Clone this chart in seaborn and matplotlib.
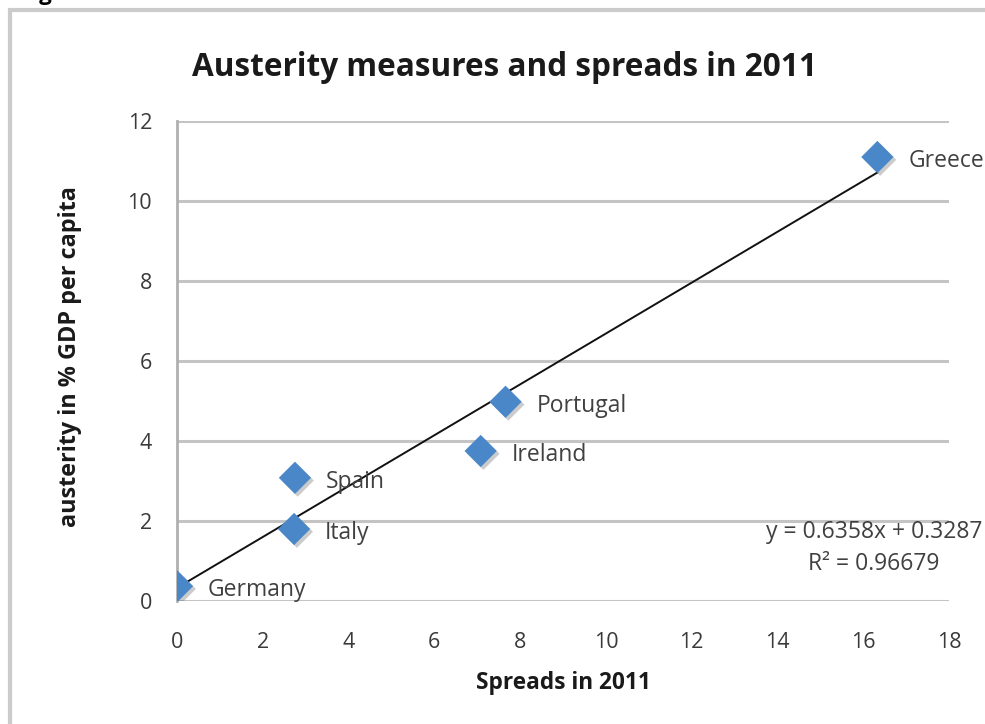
import matplotlib
matplotlib.use("Agg")
import matplotlib.pyplot as plt
import matplotlib.patheffects as pe
from matplotlib.patches import Rectangle
import numpy as np
import pandas as pd
import seaborn as sns

# Data: fiscal austerity vs. sovereign bond spreads, 2011
countries = ["Germany", "Italy", "Spain", "Ireland", "Portugal", "Greece"]
spreads = [0.0, 2.73, 2.75, 7.08, 7.66, 16.33]
austerity = [0.37, 1.80, 3.08, 3.75, 4.98, 11.10]

# Linear trendline as reported on the chart
slope = 0.6358
intercept = 0.3287
r_squared = 0.96679

x_ticks = [0, 2, 4, 6, 8, 10, 12, 14, 16, 18]
y_ticks = [0, 2, 4, 6, 8, 10, 12]

title = "Austerity measures and spreads in 2011"
x_label = "Spreads in 2011"
y_label = "austerity in % GDP per capita"

df = pd.DataFrame({"country": countries, "spreads": spreads, "austerity": austerity})

sns.set_theme(style="white")
plt.rcParams["font.family"] = ["Open Sans", "DejaVu Sans"]

W, H = 985, 724
fig = plt.figure(figsize=(W / 100, H / 100), dpi=100)
fig.patch.set_facecolor("white")

# Chart frame (open towards the right and bottom edges)
fig.patches.append(Rectangle((10 / W, -0.2), 1.3, 1.2 - 10 / H, transform=fig.transFigure,
                             fill=False, edgecolor="#cbcbcb", lw=3.0, zorder=0))
fig.text(20 / W, 1.0, "Figure 3", ha="left", va="baseline", fontsize=16,
         fontweight="bold", color="black")

ax = fig.add_axes([177 / W, 1 - 601 / H, (949 - 177) / W, (601 - 121) / H])

# Trendline across the observed range
line_x = np.array([min(spreads), max(spreads)])
line_y = slope * line_x + intercept
sns.lineplot(x=line_x, y=line_y, ax=ax, color="#111111", lw=1.4, zorder=3)

# Data points as blue diamonds with a soft shadow
sns.scatterplot(data=df, x="spreads", y="austerity", ax=ax, marker="D", s=270,
                color="#4a87c9", edgecolor="none", zorder=4, legend=False,
                path_effects=[pe.SimplePatchShadow(offset=(2, -2), alpha=0.3,
                                                   shadow_rgbFace="#555555"),
                              pe.Normal()])

for name, xv, yv in zip(countries, spreads, austerity):
    ax.annotate(name, (xv, yv), xytext=(31, -4), textcoords="offset pixels",
                ha="left", va="center", fontsize=16.5, color="#404040",
                annotation_clip=False, zorder=5)

ax.set_xlim(0, 18)
ax.set_ylim(0, 12)
ax.set_xticks(x_ticks)
ax.set_yticks(y_ticks)
ax.set_xticklabels([str(t) for t in x_ticks])
ax.set_yticklabels([str(t) for t in y_ticks])
ax.tick_params(axis="both", length=0, labelsize=15.5, labelcolor="#3a3a3a")
ax.tick_params(axis="x", pad=22)
ax.tick_params(axis="y", pad=18)

ax.yaxis.grid(True, color="#c4c4c4", lw=2.2)
ax.xaxis.grid(False)
ax.set_axisbelow(True)
for side in ["top", "right", "bottom"]:
    ax.spines[side].set_visible(False)
ax.spines["left"].set_color("#b0b0b0")
ax.spines["left"].set_linewidth(2.0)
ax.set_xlabel("")
ax.set_ylabel("")

fig.text(504 / W, 1 - 68 / H, title, ha="center", va="center", fontsize=22.7,
         fontweight="bold", color="#1a1a1a")
fig.text(563 / W, 1 - 683 / H, x_label, ha="center", va="center", fontsize=16.3,
         fontweight="bold", color="#1a1a1a")
fig.text(70 / W, 1 - 357 / H, y_label, ha="center", va="center", rotation=90,
         fontsize=16.8, fontweight="bold", color="#1a1a1a")

fig.text(874 / W, 1 - 548 / H,
         f"y = {slope}x + {intercept}\nR\u00b2 = {r_squared}",
         ha="center", va="center", multialignment="center", fontsize=16.5,
         color="#404040", linespacing=1.4)

fig.savefig("out.png", dpi=100, facecolor="white")
